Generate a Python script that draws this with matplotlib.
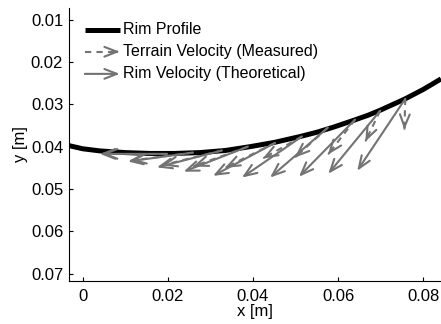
import matplotlib
matplotlib.use('Agg')
import matplotlib.pyplot as plt

# Rim profile (x, y in metres)
rim_x = [-0.0035, 0.0000, 0.0040, 0.0100, 0.0158, 0.0215, 0.0275, 0.0335, 0.0393,
         0.0450, 0.0511, 0.0550, 0.0589, 0.0636, 0.0670, 0.0699, 0.0758, 0.0800, 0.0842]
rim_y = [0.0397, 0.0405, 0.0410, 0.0414, 0.0416, 0.0416, 0.0414, 0.0409, 0.0400,
         0.0390, 0.0376, 0.0366, 0.0354, 0.0338, 0.0326, 0.0314, 0.0287, 0.0265, 0.0240]

# arrow origins on the rim
start_x = [0.0758, 0.0699, 0.0640, 0.0576, 0.0515, 0.0452, 0.0388, 0.0327, 0.0259, 0.0198]
start_y = [0.0287, 0.0315, 0.0336, 0.0355, 0.0376, 0.0391, 0.0400, 0.0409, 0.0414, 0.0417]

# rim velocity (theoretical), scaled vectors
rim_u = [-0.0113, -0.0122, -0.0132, -0.0136, -0.0141, -0.0146, -0.0151, -0.0153, -0.0153, -0.0158]
rim_v = [0.0170, 0.0149, 0.0135, 0.0118, 0.0097, 0.0078, 0.0059, 0.0040, 0.0021, 0.0000]

# terrain velocity (measured), scaled vectors
ter_u = [-0.0002, -0.0035, -0.0064, -0.0078, -0.0092, -0.0118, -0.0129, -0.0141, -0.0146, -0.0153]
ter_v = [0.0073, 0.0073, 0.0083, 0.0071, 0.0052, 0.0059, 0.0047, 0.0035, 0.0019, 0.0000]

x_ticks = [0, 0.02, 0.04, 0.06, 0.08]
x_tick_labels = ['0', '0.02', '0.04', '0.06', '0.08']
y_ticks = [0.01, 0.02, 0.03, 0.04, 0.05, 0.06, 0.07]
y_tick_labels = ['0.01', '0.02', '0.03', '0.04', '0.05', '0.06', '0.07']

plt.rcParams['font.family'] = ['Liberation Sans', 'DejaVu Sans']
gray = '#737373'

fig = plt.figure(figsize=(4.41, 3.24), dpi=100)
ax = fig.add_axes([0.156, 0.133, 0.844, 0.843])

ax.plot(rim_x, rim_y, color='black', lw=3.6, solid_capstyle='butt',
        solid_joinstyle='round', zorder=2)

head = '->,head_length=0.9,head_width=0.35'

def draw_arrow(x0, y0, u, v, dashed):
    x1, y1 = x0 + u, y0 + v
    if dashed:
        ax.plot([x0, x1], [y0, y1], color=gray, lw=1.5, ls=(0, (3, 2.5)), zorder=3)
        ax.annotate('', xy=(x1, y1), xytext=(x0 + 0.97 * u, y0 + 0.97 * v),
                    arrowprops=dict(arrowstyle=head, color=gray, lw=1.5,
                                    shrinkA=0, shrinkB=0), zorder=3)
    else:
        ax.annotate('', xy=(x1, y1), xytext=(x0, y0),
                    arrowprops=dict(arrowstyle=head, color=gray, lw=1.5,
                                    shrinkA=0, shrinkB=0), zorder=3)

for i in range(len(start_x)):
    draw_arrow(start_x[i], start_y[i], ter_u[i], ter_v[i], True)
    draw_arrow(start_x[i], start_y[i], rim_u[i], rim_v[i], False)

ax.set_xlim(-0.0033, 0.0842)
ax.set_ylim(0.0717, 0.0072)
ax.set_xticks(x_ticks)
ax.set_xticklabels(x_tick_labels)
ax.set_yticks(y_ticks)
ax.set_yticklabels(y_tick_labels)
ax.tick_params(direction='in', length=3, labelsize=12)
ax.tick_params(axis='x', pad=6)
ax.tick_params(axis='y', pad=4)
ax.spines['top'].set_visible(False)
ax.spines['right'].set_visible(False)
ax.set_xlabel('x [m]', fontsize=12, labelpad=0)
ax.set_ylabel('y [m]', fontsize=12, labelpad=2)

# legend drawn by hand so it can carry arrows
lx0, lx1, ltx = 0.043, 0.137, 0.145
rows = [0.919, 0.839, 0.758]
ax.plot([lx0, lx1], [rows[0], rows[0]], color='black', lw=3.6,
        transform=ax.transAxes, solid_capstyle='butt')
ax.text(ltx, rows[0], 'Rim Profile', transform=ax.transAxes, va='center', fontsize=11.5)
ax.plot([lx0, lx1 - 0.01], [rows[1], rows[1]], color=gray, lw=1.5, ls=(0, (3, 2.5)),
        transform=ax.transAxes)
ax.annotate('', xy=(lx1, rows[1]), xytext=(lx1 - 0.012, rows[1]), xycoords='axes fraction',
            arrowprops=dict(arrowstyle=head, color=gray, lw=1.5, shrinkA=0, shrinkB=0))
ax.text(ltx, rows[1], 'Terrain Velocity (Measured)', transform=ax.transAxes, va='center', fontsize=11.5)
ax.annotate('', xy=(lx1, rows[2]), xytext=(lx0, rows[2]), xycoords='axes fraction',
            arrowprops=dict(arrowstyle=head, color=gray, lw=1.5, shrinkA=0, shrinkB=0))
ax.text(ltx, rows[2], 'Rim Velocity (Theoretical)', transform=ax.transAxes, va='center', fontsize=11.5)

fig.savefig('out.png', dpi=100)
